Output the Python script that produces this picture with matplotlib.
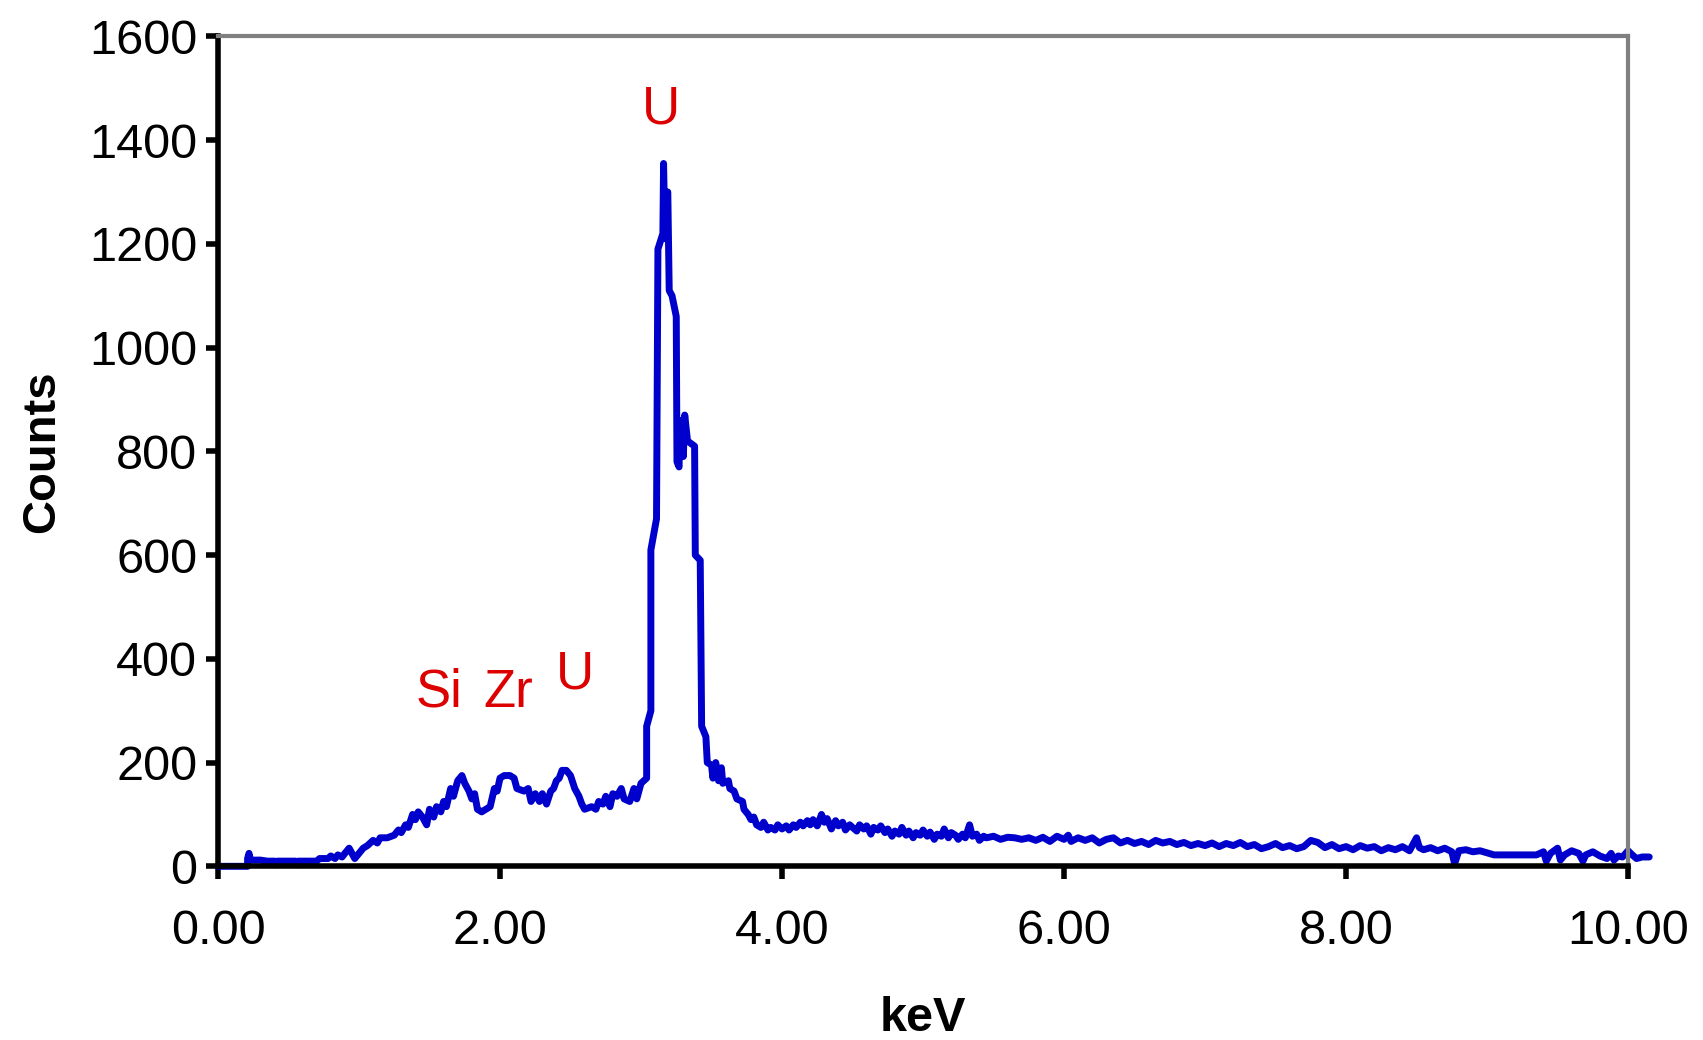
import matplotlib
matplotlib.use("Agg")
from matplotlib import pyplot as plt

plt.rcParams['font.family'] = ['Liberation Sans', 'DejaVu Sans']

# EDS spectrum (keV, counts)
energy = [0.0, 0.21, 0.21, 0.22, 0.23, 0.30, 0.35, 0.40, 0.41, 0.42, 0.55, 0.56, 0.57,
          0.70, 0.72, 0.78, 0.80, 0.83, 0.85, 0.88, 0.90, 0.93, 0.95, 0.97, 1.00,
          1.03, 1.06, 1.10, 1.13, 1.15, 1.20, 1.25, 1.28, 1.30, 1.33, 1.35, 1.38,
          1.40, 1.42, 1.45, 1.48, 1.50, 1.53, 1.55, 1.58, 1.60, 1.62, 1.65, 1.67,
          1.70, 1.73, 1.75, 1.78, 1.80, 1.82, 1.84, 1.87, 1.90, 1.93, 1.96, 1.98,
          2.00, 2.03, 2.07, 2.10, 2.12, 2.17, 2.20, 2.22, 2.25, 2.28, 2.30, 2.33,
          2.36, 2.38, 2.40, 2.42, 2.44, 2.47, 2.50, 2.53, 2.56, 2.58, 2.60, 2.65,
          2.68, 2.70, 2.73, 2.75, 2.78, 2.80, 2.83, 2.86, 2.88, 2.92, 2.95, 2.97,
          3.00, 3.04, 3.04, 3.07, 3.07, 3.11, 3.12, 3.155, 3.16, 3.17, 3.175, 3.19,
          3.20, 3.22, 3.25, 3.255, 3.27, 3.275, 3.29, 3.30, 3.31, 3.33, 3.38, 3.385,
          3.42, 3.43, 3.46, 3.47, 3.50, 3.51, 3.53, 3.55, 3.57, 3.58, 3.62, 3.63,
          3.66, 3.68, 3.72, 3.73, 3.76, 3.78, 3.80, 3.82, 3.85, 3.87, 3.90,
          3.92, 3.95, 3.97, 4.00, 4.03, 4.05, 4.08, 4.10, 4.13, 4.15, 4.18, 4.20,
          4.22, 4.25, 4.28, 4.30, 4.32, 4.35, 4.38, 4.40, 4.43, 4.45, 4.48, 4.50,
          4.53, 4.55, 4.58, 4.60, 4.63, 4.65, 4.68, 4.70, 4.73, 4.75, 4.78, 4.80,
          4.83, 4.85, 4.88, 4.90, 4.93, 4.95, 4.98, 5.00, 5.03, 5.05, 5.08, 5.10,
          5.13, 5.15, 5.18, 5.20, 5.23, 5.25, 5.28, 5.30, 5.33, 5.35, 5.38, 5.40,
          5.43, 5.45, 5.50, 5.55, 5.60, 5.65, 5.70, 5.75, 5.80, 5.85, 5.90, 5.95,
          6.00, 6.03, 6.05, 6.10, 6.15, 6.20, 6.25, 6.30, 6.35, 6.40, 6.45, 6.50,
          6.55, 6.60, 6.65, 6.70, 6.75, 6.80, 6.85, 6.90, 6.95, 7.00, 7.05, 7.10,
          7.15, 7.20, 7.25, 7.30, 7.35, 7.40, 7.45, 7.50, 7.55, 7.60, 7.65, 7.70,
          7.75, 7.80, 7.85, 7.90, 7.95, 8.00, 8.05, 8.10, 8.15, 8.20, 8.25, 8.30,
          8.35, 8.40, 8.45, 8.50, 8.52, 8.55, 8.60, 8.65, 8.70, 8.75, 8.77, 8.80,
          8.85, 8.90, 8.95, 9.00, 9.05, 9.35, 9.40, 9.42, 9.45, 9.50, 9.52, 9.55,
          9.60, 9.65, 9.68, 9.70, 9.75, 9.80, 9.85, 9.88, 9.90, 9.93, 9.96, 10.00,
          10.03, 10.06, 10.10, 10.15]
counts = [0, 0, 15, 25, 12, 12, 10, 10, 3, 10, 10, 3, 10,
          10, 15, 15, 20, 15, 22, 18, 25, 35, 25, 15, 25,
          35, 40, 50, 45, 55, 55, 60, 70, 65, 80, 75, 100,
          90, 105, 95, 80, 110, 95, 115, 105, 125, 115, 150, 135,
          165, 175, 160, 145, 130, 140, 110, 105, 110, 115, 150, 145,
          170, 175, 175, 170, 150, 145, 150, 125, 140, 125, 140, 120,
          145, 150, 165, 170, 185, 185, 175, 150, 135, 120, 110, 115,
          110, 125, 120, 135, 115, 140, 135, 150, 130, 125, 150, 130,
          160, 170, 270, 300, 610, 670, 1190, 1220, 1355, 1210, 1300, 1300,
          1110, 1100, 1060, 780, 770, 850, 860, 790, 870, 820, 810, 600,
          590, 270, 250, 200, 195, 170, 200, 165, 190, 160, 165, 150,
          145, 130, 125, 110, 100, 90, 95, 80, 75, 85, 70,
          75, 70, 80, 72, 78, 70, 80, 75, 85, 78, 88, 80,
          90, 78, 100, 85, 92, 72, 88, 78, 85, 70, 80, 75,
          68, 80, 72, 78, 62, 75, 70, 78, 65, 72, 58, 68,
          62, 75, 60, 68, 55, 65, 60, 70, 58, 66, 52, 62,
          58, 72, 55, 65, 60, 52, 62, 55, 80, 58, 62, 50,
          58, 55, 58, 52, 56, 55, 52, 55, 50, 56, 48, 58,
          52, 60, 48, 55, 50, 55, 45, 52, 55, 45, 50, 44,
          48, 42, 50, 45, 48, 42, 46, 40, 44, 40, 45, 38,
          44, 40, 46, 38, 42, 34, 38, 44, 36, 40, 34, 38,
          50, 46, 36, 42, 34, 38, 32, 40, 35, 38, 30, 36,
          32, 38, 30, 55, 36, 32, 36, 30, 35, 28, 5, 30,
          32, 28, 30, 26, 22, 22, 28, 10, 25, 35, 12, 22,
          30, 25, 10, 22, 28, 20, 15, 25, 12, 20, 18, 30,
          22, 15, 18, 18]

peak_labels = ['Si', 'Zr', 'U', 'U']
peak_x = [1.57, 2.06, 2.53, 3.14]
peak_y = [335, 335, 370, 1460]

fig = plt.figure(figsize=(17.03, 10.40), dpi=100)
ax = fig.add_axes([0.128, 0.167, 0.828, 0.798])

ax.plot(energy, counts, color='#0000CC', linewidth=5, clip_on=False,
        solid_joinstyle='round', solid_capstyle='round')

for lab, px, py in zip(peak_labels, peak_x, peak_y):
    ax.text(px, py, lab, color='#DD0000', fontsize=38, ha='center', va='center')

ax.set_xlim(0, 10)
ax.set_ylim(0, 1600)
ax.set_xticks([0, 2, 4, 6, 8, 10])
ax.set_xticklabels(['0.00', '2.00', '4.00', '6.00', '8.00', '10.00'])
ax.set_yticks(range(0, 1601, 200))

ax.spines['left'].set_color('black')
ax.spines['bottom'].set_color('black')
ax.spines['left'].set_linewidth(4)
ax.spines['bottom'].set_linewidth(4)
ax.spines['top'].set_color('#808080')
ax.spines['right'].set_color('#808080')
ax.spines['top'].set_linewidth(3)
ax.spines['right'].set_linewidth(3)

ax.tick_params(axis='both', direction='out', length=9, width=4, labelsize=35, pad=6)
ax.tick_params(axis='x', pad=22)

ax.set_xlabel('keV', fontsize=35, fontweight='bold', labelpad=30)
ax.set_ylabel('Counts', fontsize=34, fontweight='bold', labelpad=18)

fig.savefig('out.png', dpi=100)
